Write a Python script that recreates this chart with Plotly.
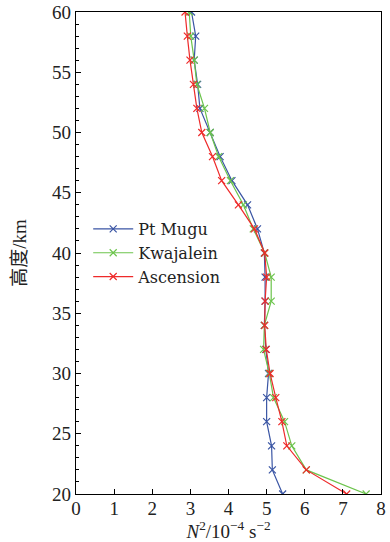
import plotly.graph_objects as go

altitude = [20, 22, 24, 26, 28, 30, 32, 34, 36, 38, 40, 42, 44, 46, 48, 50, 52, 54, 56, 58, 60]
pt_mugu = [5.42, 5.15, 5.13, 5.00, 5.00, 5.05, 4.98, 4.94, 4.96, 4.96, 4.94, 4.76, 4.50, 4.09, 3.78, 3.52, 3.25, 3.19, 3.10, 3.14, 3.03]
kwajalein = [7.61, 6.04, 5.66, 5.47, 5.18, 5.07, 4.92, 4.94, 5.12, 5.12, 4.95, 4.65, 4.39, 4.05, 3.74, 3.52, 3.37, 3.17, 3.10, 3.01, 2.97]
ascension = [7.10, 6.04, 5.53, 5.40, 5.24, 5.09, 4.99, 4.95, 4.96, 5.00, 4.95, 4.68, 4.26, 3.82, 3.58, 3.30, 3.17, 3.08, 2.99, 2.92, 2.86]

series_names = ["Pt Mugu", "Kwajalein", "Ascension"]
series_colors = ["#3a55a4", "#6cc44c", "#ee2a2a"]
x_ticks = [0, 1, 2, 3, 4, 5, 6, 7, 8]
y_ticks = [20, 25, 30, 35, 40, 45, 50, 55, 60]

serif = "Times New Roman, Liberation Serif, DejaVu Serif, serif"
wide_serif = "DejaVu Serif, Liberation Serif, serif"

fig = go.Figure()
for name, vals, col in zip(series_names, [pt_mugu, kwajalein, ascension], series_colors):
    fig.add_trace(go.Scatter(
        x=vals, y=altitude, name=name, mode="lines+markers",
        line=dict(color=col, width=1.2),
        marker=dict(symbol="x-thin", size=7, line=dict(color=col, width=1.2)),
    ))

fig.update_layout(
    width=390, height=542,
    margin=dict(l=76, r=9, t=12, b=48, autoexpand=False),
    paper_bgcolor="white", plot_bgcolor="white",
    font=dict(family=serif, size=19, color="#222"),
    showlegend=True,
    legend=dict(
        x=0.04, y=0.585, xanchor="left", yanchor="top",
        bgcolor="rgba(0,0,0,0)", font=dict(family=wide_serif, size=16, color="#222"),
        itemwidth=40, tracegroupgap=0,
    ),
    xaxis=dict(
        range=[0, 8], tickvals=x_ticks, ticks="inside", ticklen=5, tickcolor="black",
        showline=True, linecolor="black", linewidth=1.2, mirror=True, showgrid=False,
        zeroline=False, tickfont=dict(family=serif, size=19), automargin=False,
        ticklabelstandoff=-3,
        title=dict(text="<i>N</i><sup>2</sup>/10<sup>−4</sup> s<sup>−2</sup>",
                   font=dict(family=serif, size=19), standoff=8),
    ),
    yaxis=dict(
        range=[20, 60], tickvals=y_ticks, ticks="inside", ticklen=5, tickcolor="black",
        showline=True, linecolor="black", linewidth=1.2, mirror=True, showgrid=False,
        zeroline=False, tickfont=dict(family=serif, size=19), automargin=False,
        minor=dict(dtick=1, ticks="inside", ticklen=3, tickcolor="black", showgrid=False),
        title=dict(text="高度/km", font=dict(family=serif + ", Noto Sans CJK SC", size=19), standoff=20),
    ),
)

fig.write_html("out.html", config={"displayModeBar": False},
               post_script="document.body.style.margin='0';")
